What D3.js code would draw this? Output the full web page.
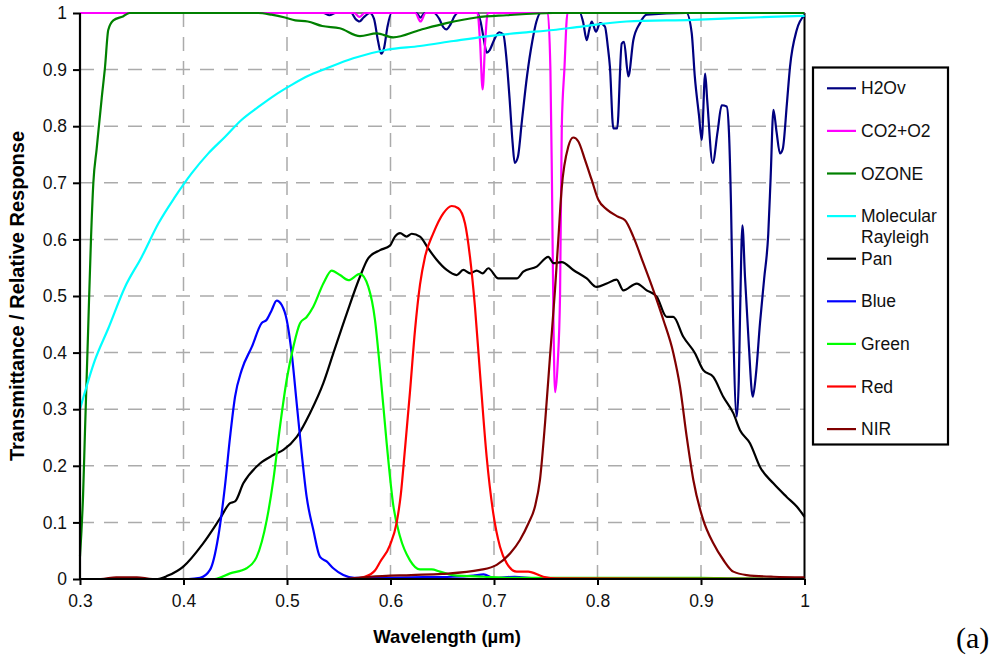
<!DOCTYPE html>
<html><head><meta charset="utf-8">
<script src="https://cdn.jsdelivr.net/npm/d3@7"></script>
<style>body{margin:0;background:#fff}</style>
</head><body>
<svg id="c" width="996" height="661"></svg>
<script>
// ---- data: [wavelength (µm), value] ----
const seriesNames = ["H2Ov","CO2+O2","OZONE","Molecular Rayleigh","Pan","Blue","Green","Red","NIR"];
const seriesColors = ["#000080","#ff00ff","#008000","#00ffff","#000000","#0000ff","#00ff00","#ff0000","#800000"];
const xTicks = [0.3,0.4,0.5,0.6,0.7,0.8,0.9,1];
const yTicks = [0,0.1,0.2,0.3,0.4,0.5,0.6,0.7,0.8,0.9,1];

const h2ov = [[0.30,1.0],[0.535,1.0],[0.541,0.996],[0.547,1.0],[0.562,1.0],[0.566,0.99],[0.570,0.985],[0.574,0.992],[0.580,1.0],[0.584,0.99],[0.588,0.95],[0.591,0.928],[0.594,0.94],[0.597,0.975],[0.601,1.0],[0.625,1.0],[0.629,0.992],[0.633,1.0],[0.642,1.0],[0.647,0.99],[0.651,0.975],[0.654,0.971],[0.658,0.98],[0.662,0.995],[0.665,1.0],[0.684,1.0],[0.687,0.985],[0.690,0.955],[0.693,0.93],[0.696,0.935],[0.700,0.952],[0.705,0.966],[0.709,0.962],[0.712,0.92],[0.715,0.85],[0.718,0.77],[0.720,0.735],[0.723,0.745],[0.727,0.81],[0.732,0.89],[0.737,0.95],[0.741,0.985],[0.745,1.0],[0.783,1.0],[0.786,0.985],[0.7896,0.952],[0.792,0.97],[0.7944,0.985],[0.7986,0.967],[0.8024,0.982],[0.8072,0.976],[0.810,0.94],[0.812,0.905],[0.8153,0.796],[0.819,0.796],[0.8234,0.946],[0.8256,0.949],[0.8298,0.888],[0.8346,0.952],[0.841,0.982],[0.8475,0.997],[0.886,1.0],[0.891,0.965],[0.894,0.888],[0.898,0.82],[0.9007,0.776],[0.904,0.893],[0.906,0.846],[0.9113,0.735],[0.916,0.79],[0.920,0.837],[0.9248,0.835],[0.927,0.79],[0.929,0.66],[0.931,0.46],[0.9345,0.287],[0.9365,0.35],[0.9377,0.463],[0.940,0.625],[0.9425,0.534],[0.946,0.42],[0.950,0.322],[0.953,0.36],[0.957,0.452],[0.961,0.53],[0.965,0.61],[0.9673,0.71],[0.970,0.829],[0.973,0.79],[0.9763,0.752],[0.979,0.76],[0.983,0.84],[0.986,0.905],[0.9925,0.97],[1.0,0.996]];

const co2o2 = [[0.30,1],[0.565,1],[0.570,0.993],[0.575,1],[0.624,1],[0.629,0.985],[0.634,1],[0.684,1],[0.6865,0.95],[0.689,0.865],[0.6915,0.95],[0.694,1],[0.752,1],[0.7545,0.9],[0.756,0.7],[0.7575,0.45],[0.759,0.33],[0.7615,0.38],[0.7638,0.5],[0.7655,0.8],[0.768,0.9],[0.771,1],[1.0,1]];

const ozone = [[0.300,0.04],[0.303,0.15],[0.3048,0.26],[0.3077,0.43],[0.3106,0.60],[0.3129,0.70],[0.3161,0.76],[0.321,0.85],[0.3242,0.905],[0.3273,0.97],[0.3322,0.987],[0.3415,0.994],[0.348,1.0],[0.472,1.0],[0.485,0.997],[0.498,0.992],[0.508,0.987],[0.520,0.985],[0.534,0.977],[0.551,0.973],[0.5705,0.959],[0.5866,0.964],[0.6027,0.957],[0.6285,0.970],[0.654,0.982],[0.683,0.992],[0.712,0.996],[0.757,1.0],[1.0,1.0]];

const rayleigh = [[0.300,0.30],[0.3145,0.387],[0.3274,0.443],[0.3435,0.516],[0.3596,0.569],[0.3757,0.628],[0.3918,0.675],[0.408,0.717],[0.424,0.752],[0.440,0.781],[0.456,0.811],[0.4723,0.834],[0.4884,0.855],[0.5045,0.873],[0.5206,0.889],[0.5367,0.901],[0.564,0.92],[0.5963,0.935],[0.6285,0.9417],[0.661,0.9505],[0.693,0.9587],[0.725,0.965],[0.7573,0.97],[0.780,0.975],[0.828,0.985],[0.8926,0.988],[0.957,0.9925],[1.0,0.995]];

const pan = [[0.30,0],[0.375,0],[0.385,0.006],[0.3998,0.022],[0.419,0.063],[0.4353,0.107],[0.445,0.134],[0.4498,0.137],[0.4578,0.169],[0.4739,0.204],[0.4868,0.219],[0.4965,0.228],[0.5094,0.251],[0.5222,0.293],[0.5351,0.346],[0.5448,0.399],[0.5577,0.469],[0.5705,0.534],[0.5786,0.567],[0.5899,0.581],[0.5995,0.589],[0.6043,0.605],[0.6092,0.611],[0.6156,0.605],[0.6205,0.61],[0.6285,0.605],[0.6365,0.584],[0.6446,0.564],[0.6543,0.546],[0.664,0.537],[0.6703,0.546],[0.677,0.54],[0.6833,0.545],[0.689,0.54],[0.6945,0.549],[0.7042,0.531],[0.7123,0.531],[0.722,0.531],[0.7283,0.543],[0.7413,0.552],[0.7525,0.569],[0.7575,0.558],[0.7654,0.56],[0.7766,0.546],[0.7896,0.531],[0.7992,0.516],[0.8089,0.522],[0.8185,0.529],[0.825,0.51],[0.8379,0.522],[0.8475,0.51],[0.8572,0.499],[0.8669,0.463],[0.8732,0.463],[0.8829,0.428],[0.8942,0.399],[0.9022,0.369],[0.9119,0.357],[0.9215,0.322],[0.9312,0.293],[0.9377,0.263],[0.9473,0.24],[0.957,0.198],[0.9699,0.169],[0.9828,0.145],[0.9925,0.128],[1.0,0.11]];

const blue = [[0.30,0],[0.405,0],[0.416,0.002],[0.4256,0.016],[0.4336,0.075],[0.440,0.163],[0.445,0.251],[0.4498,0.322],[0.4562,0.369],[0.466,0.41],[0.4755,0.452],[0.4804,0.458],[0.4852,0.475],[0.490,0.492],[0.4949,0.484],[0.4997,0.458],[0.5045,0.399],[0.5094,0.31],[0.5142,0.222],[0.519,0.145],[0.5254,0.087],[0.5319,0.039],[0.5383,0.031],[0.5447,0.019],[0.5544,0.007],[0.565,0.002],[0.62,0.003],[0.66,0.004],[0.68,0.006],[0.69,0.008],[0.70,0.002],[0.72,0.004],[0.74,0.001],[1.0,0]];

const green = [[0.30,0],[0.43,0],[0.445,0.01],[0.461,0.019],[0.4707,0.039],[0.4804,0.104],[0.4868,0.175],[0.4932,0.269],[0.4997,0.352],[0.5061,0.41],[0.5126,0.452],[0.519,0.463],[0.5254,0.481],[0.5351,0.522],[0.5432,0.545],[0.5512,0.537],[0.5593,0.528],[0.5705,0.539],[0.5786,0.516],[0.585,0.458],[0.5899,0.37],[0.5963,0.24],[0.6027,0.13],[0.6092,0.075],[0.6188,0.033],[0.6285,0.017],[0.6398,0.017],[0.6478,0.013],[0.66,0.007],[0.69,0.004],[0.72,0.002],[0.90,0.002],[0.93,0.001],[1.0,0]];

const red = [[0.30,0],[0.56,0],[0.575,0.004],[0.585,0.015],[0.5899,0.03],[0.5995,0.06],[0.606,0.1],[0.610,0.15],[0.6140,0.23],[0.6188,0.33],[0.6237,0.44],[0.6285,0.52],[0.6333,0.569],[0.6414,0.611],[0.651,0.646],[0.6591,0.659],[0.6655,0.655],[0.672,0.628],[0.6768,0.569],[0.6816,0.481],[0.6865,0.363],[0.6929,0.216],[0.6993,0.116],[0.7058,0.057],[0.7122,0.028],[0.7219,0.013],[0.733,0.013],[0.7476,0.004],[0.76,0.001],[1.0,0]];

const nir = [[0.30,0],[0.32,0],[0.335,0.003],[0.355,0.003],[0.37,0],[0.55,0],[0.58,0.004],[0.62,0.007],[0.65,0.009],[0.6865,0.016],[0.7026,0.025],[0.7155,0.045],[0.7251,0.069],[0.7332,0.098],[0.7396,0.128],[0.7444,0.175],[0.7493,0.275],[0.7541,0.393],[0.7589,0.51],[0.7621,0.599],[0.7654,0.69],[0.7718,0.764],[0.7766,0.78],[0.7815,0.773],[0.788,0.74],[0.7944,0.705],[0.8008,0.67],[0.8089,0.653],[0.82,0.64],[0.8266,0.634],[0.8346,0.605],[0.8443,0.558],[0.854,0.51],[0.8636,0.458],[0.8733,0.399],[0.8797,0.34],[0.8862,0.251],[0.8926,0.175],[0.9022,0.104],[0.9119,0.063],[0.9215,0.034],[0.9312,0.013],[0.9441,0.007],[0.97,0.004],[1.0,0.003]];

const seriesData = [h2ov, co2o2, ozone, rayleigh, pan, blue, green, red, nir];

// ---- layout ----
const L = 80, R = 804.5, T = 13, B = 579;
const svg = d3.select("#c");
const font = "'Liberation Sans', Arial, sans-serif";
const x = d3.scaleLinear().domain([0.3, 1]).range([L, R]);
const y = d3.scaleLinear().domain([0, 1]).range([B, T]);

// grid
const grid = svg.append("g").attr("stroke", "#ababab").attr("stroke-width", 1.5).attr("stroke-dasharray", "14,10");
grid.selectAll("line.h").data(yTicks.slice(1, -1)).join("line")
  .attr("x1", L).attr("x2", R).attr("y1", d => y(d)).attr("y2", d => y(d));
grid.selectAll("line.v").data(xTicks.slice(1, -1)).join("line").attr("class","v")
  .attr("y1", T).attr("y2", B).attr("x1", d => x(d)).attr("x2", d => x(d));

// plot frame (top gray, right black)
svg.append("line").attr("x1", L).attr("x2", R).attr("y1", T).attr("y2", T).attr("stroke", "#555").attr("stroke-width", 1.5);
svg.append("line").attr("x1", R).attr("x2", R).attr("y1", T).attr("y2", B).attr("stroke", "#000").attr("stroke-width", 2);

// curves
const line = d3.line().x(d => x(d[0])).y(d => y(d[1])).curve(d3.curveMonotoneX);
svg.append("g").attr("fill", "none").attr("stroke-width", 2.2).attr("stroke-linejoin", "round")
  .selectAll("path").data(seriesData).join("path")
  .attr("stroke", (d, i) => seriesColors[i]).attr("d", line);

// axes
const yAxis = svg.append("g").attr("transform", `translate(${L},0)`)
  .call(d3.axisLeft(y).tickValues(yTicks).tickSize(7).tickPadding(6).tickFormat(d => d3.format("")(d)));
const xAxis = svg.append("g").attr("transform", `translate(0,${B})`)
  .call(d3.axisBottom(x).tickValues(xTicks).tickSize(6).tickPadding(10).tickFormat(d => d3.format("")(d)));
[xAxis, yAxis].forEach(a => {
  a.select(".domain").attr("stroke", "#000").attr("stroke-width", 2.2);
  a.selectAll(".tick line").attr("stroke", "#000").attr("stroke-width", 2);
  a.selectAll("text").attr("font-family", font).attr("font-size", 17.5).attr("fill", "#111");
});
yAxis.select(".domain").attr("d", `M0,${T}V${B}`);
xAxis.select(".domain").attr("d", `M${L},0H${R}`);

// titles
svg.append("text").attr("transform", `translate(24,${(T + B) / 2}) rotate(-90)`)
  .attr("text-anchor", "middle").attr("font-family", font).attr("font-weight", "bold")
  .attr("font-size", 20).text("Transmittance / Relative Response");
svg.append("text").attr("x", 447).attr("y", 643).attr("text-anchor", "middle")
  .attr("font-family", font).attr("font-weight", "bold").attr("font-size", 18.5).text("Wavelength (µm)");
svg.append("text").attr("x", 956).attr("y", 648).attr("font-family", "'Liberation Serif', 'Times New Roman', serif")
  .attr("font-size", 30).text("(a)");

// legend
const lg = svg.append("g");
lg.append("rect").attr("x", 813).attr("y", 67.5).attr("width", 135).attr("height", 377)
  .attr("fill", "#fff").attr("stroke", "#000").attr("stroke-width", 2.2);
seriesNames.forEach((name, i) => {
  const cy = 88.3 + 42.6 * i;
  lg.append("line").attr("x1", 827).attr("x2", 856).attr("y1", cy).attr("y2", cy)
    .attr("stroke", seriesColors[i]).attr("stroke-width", 2.2);
  const words = name === "Molecular Rayleigh" ? ["Molecular", "Rayleigh"] : [name];
  words.forEach((w, j) => {
    lg.append("text").attr("x", 861).attr("y", cy + 6 + j * 21).attr("font-family", font)
      .attr("font-size", 17.5).attr("fill", "#111").text(w);
  });
});
</script>
</body></html>
